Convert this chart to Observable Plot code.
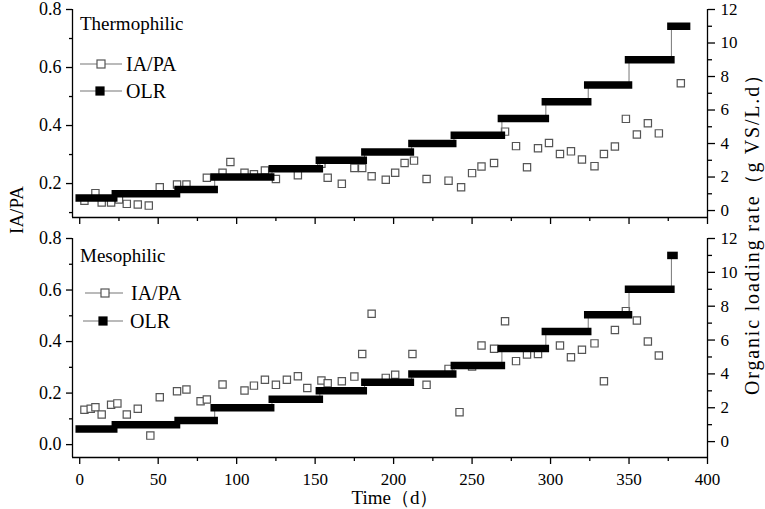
<!DOCTYPE html>
<html><head><meta charset="utf-8">
<script src="https://cdn.jsdelivr.net/npm/d3@7"></script>
<script src="https://cdn.jsdelivr.net/npm/@observablehq/plot@0.6"></script>
<style>
body{margin:0;background:#fff;}
#chart{position:relative;width:765px;height:509px;font-family:"Liberation Serif",serif;color:#000;overflow:hidden;}
#chart > svg{position:absolute;left:0;}
</style></head><body><div id="chart"></div>
<script>
// ---- data ----
const thermoTime = [3,10,14,20,25,30,37,44,51,62,68,81,91,96,105,111,118,125,139,154,158,167,175,180,186,195,201,207,213,221,235,243,250,256,264,271,278,285,292,299,306,313,320,328,334,341,348,355,362,369,383];
const thermoIAPA = [0.141,0.167,0.135,0.135,0.145,0.13,0.128,0.124,0.187,0.197,0.197,0.22,0.237,0.274,0.237,0.232,0.245,0.216,0.229,0.268,0.22,0.199,0.254,0.254,0.225,0.213,0.237,0.271,0.279,0.216,0.21,0.187,0.236,0.259,0.271,0.379,0.329,0.256,0.322,0.34,0.302,0.311,0.283,0.26,0.302,0.328,0.423,0.369,0.408,0.373,0.546];
const mesoTime = [3,7,10,14,20,24,30,37,45,51,62,68,77,81,91,105,111,118,125,132,139,145,154,158,167,175,180,186,195,201,212,221,235,242,250,256,264,271,278,285,292,306,313,320,328,334,341,348,355,362,369];
const mesoIAPA = [0.135,0.139,0.145,0.117,0.155,0.16,0.117,0.139,0.035,0.184,0.207,0.214,0.168,0.175,0.233,0.21,0.229,0.252,0.232,0.252,0.265,0.22,0.249,0.238,0.246,0.264,0.352,0.508,0.259,0.271,0.352,0.232,0.294,0.126,0.303,0.385,0.372,0.479,0.324,0.35,0.352,0.385,0.339,0.368,0.393,0.246,0.445,0.518,0.482,0.4,0.346];
const olrLevels = [0.75,1,1.25,2,2.5,3,3.5,4,4.5,5.5,6.5,7.5,9,11];
const thermoOlrStart = [0,23,63,86,123,153,182,212,239,269,297,324,350,377];
const thermoOlrEnd   = [22,62,86,122,153,181,211,238,269,297,324,350,377,387];
const mesoOlrStart = [0,23,63,86,123,153,182,212,239,269,297,324,350,377];
const mesoOlrEnd   = [22,62,86,122,153,181,211,238,269,297,324,350,377,379];
const xMajor = [0,50,100,150,200,250,300,350,400];
const xMinor = [25,75,125,175,225,275,325,375];
const leftMajorTop = [0.2,0.4,0.6,0.8];
const leftMinorTop = [0.1,0.3,0.5,0.7];
const leftMajorBot = [0.0,0.2,0.4,0.6,0.8];
const leftMinorBot = [0.1,0.3,0.5,0.7];
const rightMajor = [0,2,4,6,8,10,12];
const rightMinor = [1,3,5,7,9,11];

// ---- panel builder ----
const FONT = "Liberation Serif";
const blank = () => "";
function panel({time, iapa, starts, ends, yDomain, leftMajor, leftMinor, olrA, olrB, top, height, mt, mb, showXLabels}) {
  const toY = v => olrB + olrA * v; // map OLR onto the IA/PA scale
  const steps = olrLevels.map((v, i) => ({s: starts[i], e: ends[i], y: toY(v)}));
  const path = steps.flatMap(d => [{x: d.s, y: d.y}, {x: d.e, y: d.y}]);
  const pts = time.map((t, i) => ({t, v: iapa[i]}));
  const xd = [-4.6, 400];
  const sw = 1.3;
  const marks = [
    Plot.dot(pts, {x: "t", y: "v", symbol: "square", r: 4.1, fill: "white", stroke: "#555", strokeWidth: 1.2}),
    Plot.line(path, {x: "x", y: "y", stroke: "#777", strokeWidth: 1}),
    Plot.ruleY(steps, {y: "y", x1: "s", x2: "e", stroke: "black", strokeWidth: 7.5, strokeLinecap: "square"}),
    Plot.ruleX(xd, {stroke: "black", strokeWidth: sw}),
    Plot.ruleY([yDomain[0]], {stroke: "black", strokeWidth: sw}),
    Plot.axisX({ticks: xMajor, tickSize: 7, tickPadding: 8, strokeWidth: sw, label: null,
      tickFormat: showXLabels ? d3.format("d") : blank, fontSize: 17, fontFamily: FONT}),
    Plot.axisX({ticks: xMinor, tickSize: 4, strokeWidth: sw, label: null, tickFormat: blank}),
    Plot.axisY({ticks: leftMajor, tickSize: 6, tickPadding: 5, strokeWidth: sw, label: null,
      tickFormat: d3.format(".1f"), fontSize: 18, fontFamily: FONT}),
    Plot.axisY({ticks: leftMinor, tickSize: 3, strokeWidth: sw, label: null, tickFormat: blank}),
    Plot.axisY({anchor: "right", ticks: rightMajor.map(toY), tickSize: 7, tickPadding: 6, strokeWidth: sw,
      tickFormat: d => String(Math.round((d - olrB) / olrA)), fontSize: 17, fontFamily: FONT, label: null}),
    Plot.axisY({anchor: "right", ticks: rightMinor.map(toY), tickSize: 4, strokeWidth: sw, label: null, tickFormat: blank})
  ];
  const svg = Plot.plot({
    width: 765, height,
    marginLeft: 72, marginRight: 58, marginTop: mt, marginBottom: mb,
    x: {domain: xd},
    y: {domain: yDomain},
    style: {fontFamily: FONT, fontSize: "17px", color: "black", background: "transparent", overflow: "visible"},
    marks
  });
  svg.style.top = top + "px";
  return svg;
}

const chart = document.getElementById("chart");
chart.append(panel({time: thermoTime, iapa: thermoIAPA, starts: thermoOlrStart, ends: thermoOlrEnd,
  yDomain: [0.083, 0.8], leftMajor: leftMajorTop, leftMinor: leftMinorTop,
  olrA: 0.693 / 12, olrB: 0.107, top: 0, height: 232, mt: 9, mb: 15, showXLabels: false}));
chart.append(panel({time: mesoTime, iapa: mesoIAPA, starts: mesoOlrStart, ends: mesoOlrEnd,
  yDomain: [-0.05, 0.8], leftMajor: leftMajorBot, leftMinor: leftMinorBot,
  olrA: 0.7883 / 12, olrB: 0.0117, top: 232, height: 277, mt: 6, mb: 52, showXLabels: true}));

// ---- titles and legends ----
const ov = d3.select(chart).append("svg").attr("width", 765).attr("height", 509)
  .style("top", "0px").style("pointer-events", "none")
  .attr("font-family", FONT).attr("font-size", 19);
function legend(x1, x2, xm, y, tx, label, filled) {
  ov.append("line").attr("x1", x1).attr("x2", x2).attr("y1", y).attr("y2", y).attr("stroke", "#777").attr("stroke-width", 1.2);
  ov.append("rect").attr("x", xm - 4).attr("y", y - 4).attr("width", 8).attr("height", 8)
    .attr("fill", filled ? "black" : "white").attr("stroke", filled ? "black" : "#555").attr("stroke-width", 1.2);
  ov.append("text").attr("x", tx).attr("y", y + 7).attr("font-size", 20).text(label);
}
ov.append("text").attr("x", 80).attr("y", 30).text("Thermophilic");
legend(80, 122, 101, 64, 126, "IA/PA", false);
legend(80, 122, 100, 91, 126, "OLR", true);
ov.append("text").attr("x", 80).attr("y", 262).text("Mesophilic");
legend(85, 123, 105, 293, 131, "IA/PA", false);
legend(83, 123, 103, 321, 130, "OLR", true);
ov.append("text").attr("x", 395).attr("y", 504).attr("text-anchor", "middle").text("Time（d）");
ov.append("text").attr("transform", "translate(23,210) rotate(-90)").attr("text-anchor", "middle").text("IA/PA");
ov.append("text").attr("transform", "translate(759,230) rotate(-90)").attr("text-anchor", "middle")
  .attr("font-size", 20).attr("textLength", 330).attr("lengthAdjust", "spacing").text("Organic loading rate（g VS/L.d）");
</script></body></html>
